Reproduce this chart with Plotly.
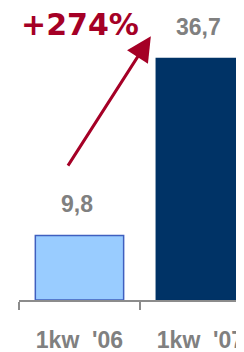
import plotly.graph_objects as go

categories = ["1kw\u00a0\u00a0'06", "1kw\u00a0\u00a0'07"]
values = [9.8, 36.7]
value_labels = ["9,8", "36,7"]
change_label = "+274%"
bar_colors = ["#99CCFF", "#003366"]
bar_line_colors = ["#3F5FBF", "#003366"]

fig = go.Figure()
fig.add_trace(go.Bar(
    x=categories, y=values,
    width=0.73,
    marker=dict(color=bar_colors, line=dict(color=bar_line_colors, width=1.5)),
    hoverinfo="skip",
))

# value labels above bars
for i, (v, lab) in enumerate(zip(values, value_labels)):
    fig.add_annotation(
        x=i, y=v, xref="x", yref="y", text=lab, showarrow=False,
        yanchor="middle", yshift=32, xshift=-2,
        font=dict(family="Liberation Sans", size=23, color="#808080", weight="bold"),
    )

# growth arrow
fig.add_annotation(
    x=0.59, y=40.1, xref="x", yref="y",
    ax=-0.103, ay=20.2, axref="x", ayref="y",
    text="", showarrow=True, arrowhead=2, arrowsize=1.65, arrowwidth=3,
    arrowcolor="#A50026", standoff=0,
)
fig.add_annotation(
    x=0.0, y=41.9, xref="x", yref="y", text=change_label, showarrow=False,
    xanchor="center", yanchor="middle", xshift=1,
    font=dict(family="DejaVu Sans", size=30, color="#A50026", weight="bold"),
)

# figure sized to fit inside the page's default 8px body margin
fig.update_layout(
    width=236, height=344,
    margin=dict(l=11, r=0, t=0, b=52, autoexpand=False),
    paper_bgcolor="white", plot_bgcolor="white",
    showlegend=False,
    xaxis=dict(
        type="category", categoryorder="array", categoryarray=categories,
        range=[-0.5, 1.36], automargin=False,
        showgrid=False, zeroline=False, showline=True, linecolor="#8C8C8C", linewidth=1.5,
        ticks="outside", tickson="boundaries", ticklen=8, tickcolor="#8C8C8C", tickwidth=1.5,
        ticklabelstandoff=19,
        tickfont=dict(family="Liberation Sans", size=23, color="#808080", weight="bold"),
    ),
    yaxis=dict(range=[0, 44.38], visible=False, showgrid=False, zeroline=False,
               automargin=False),
)

fig.write_html("out.html")
